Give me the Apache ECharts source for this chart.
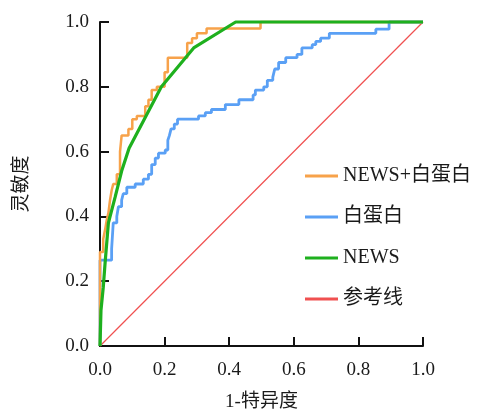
<!DOCTYPE html>
<html><head><meta charset="utf-8">
<script src="https://cdn.jsdelivr.net/npm/echarts@6/dist/echarts.min.js"></script>
<style>html,body{margin:0;padding:0;background:#fff}#c{width:481px;height:410px}</style>
</head><body><div id="c"></div>
<script>
var seriesNames = ['NEWS+白蛋白', '白蛋白', 'NEWS', '参考线'];
var xTicks = ['0.0','0.2','0.4','0.6','0.8','1.0'];
var yTicks = ['0.0','0.2','0.4','0.6','0.8','1.0'];
var combined = [[0,0],[0,0.29],[0.01,0.29],[0.01,0.33],[0.016,0.33],[0.016,0.36],[0.021,0.36],[0.021,0.39],[0.026,0.39],[0.026,0.41],[0.031,0.41],[0.031,0.45],[0.036,0.45],[0.036,0.48],[0.041,0.48],[0.041,0.50],[0.052,0.50],[0.052,0.53],[0.062,0.53],[0.062,0.60],[0.067,0.60],[0.067,0.65],[0.088,0.65],[0.088,0.67],[0.10,0.67],[0.10,0.70],[0.114,0.70],[0.114,0.71],[0.14,0.71],[0.14,0.74],[0.15,0.74],[0.15,0.76],[0.16,0.76],[0.16,0.79],[0.176,0.79],[0.176,0.80],[0.20,0.80],[0.20,0.845],[0.21,0.845],[0.21,0.89],[0.27,0.89],[0.27,0.935],[0.285,0.935],[0.285,0.95],[0.30,0.95],[0.30,0.965],[0.33,0.965],[0.33,0.98],[0.497,0.98],[0.497,1.0],[1,1]];
var albumin = [[0,0],[0,0.265],[0.036,0.265],[0.036,0.30],[0.041,0.30],[0.041,0.38],[0.052,0.38],[0.052,0.40],[0.057,0.40],[0.057,0.43],[0.067,0.43],[0.067,0.45],[0.072,0.45],[0.072,0.47],[0.083,0.47],[0.083,0.49],[0.109,0.49],[0.109,0.50],[0.134,0.50],[0.134,0.515],[0.150,0.515],[0.150,0.53],[0.160,0.53],[0.160,0.56],[0.171,0.56],[0.171,0.58],[0.181,0.58],[0.181,0.595],[0.202,0.595],[0.202,0.605],[0.210,0.605],[0.210,0.635],[0.215,0.635],[0.215,0.65],[0.22,0.65],[0.22,0.67],[0.23,0.67],[0.23,0.685],[0.24,0.685],[0.24,0.70],[0.305,0.70],[0.305,0.71],[0.326,0.71],[0.326,0.72],[0.345,0.72],[0.345,0.73],[0.388,0.73],[0.388,0.745],[0.43,0.745],[0.43,0.76],[0.474,0.76],[0.474,0.775],[0.481,0.775],[0.481,0.79],[0.507,0.79],[0.507,0.80],[0.518,0.80],[0.518,0.82],[0.535,0.82],[0.535,0.83],[0.541,0.83],[0.541,0.855],[0.553,0.855],[0.553,0.875],[0.575,0.875],[0.575,0.89],[0.61,0.89],[0.61,0.90],[0.625,0.90],[0.625,0.92],[0.657,0.92],[0.657,0.93],[0.668,0.93],[0.668,0.94],[0.683,0.94],[0.683,0.95],[0.71,0.95],[0.71,0.965],[0.854,0.965],[0.854,0.978],[0.895,0.978],[0.895,1.0],[1,1]];
var news = [[0,0],[0.003,0.11],[0.01,0.18],[0.016,0.26],[0.026,0.38],[0.047,0.46],[0.067,0.54],[0.09,0.61],[0.19,0.80],[0.29,0.92],[0.42,1.0],[1,1]];
var reference = [[0,0],[1,1]];

var serif = '"Liberation Serif","Times New Roman","Noto Sans CJK SC",serif';
var chart = echarts.init(document.getElementById('c'));
function ln(name, data, color, width, z) {
  return {name: name, type: 'line', data: data, showSymbol: false, symbol: 'none',
    lineStyle: {color: color, width: width}, itemStyle: {color: color}, z: z, clip: false, animation: false};
}
chart.setOption({
  animation: false,
  grid: {left: 100, right: 58, top: 22, bottom: 64, outerBoundsMode: 'none', containLabel: false},
  legend: {
    data: seriesNames, orient: 'vertical', left: 300, top: 161,
    icon: 'rect', itemWidth: 33, itemHeight: 3, itemGap: 21,
    textStyle: {fontFamily: serif, fontSize: 20, color: '#1a1a1a'}
  },
  xAxis: {
    type: 'value', min: 0, max: 1, interval: 0.2,
    name: '1-特异度', nameLocation: 'middle', nameGap: 47,
    nameTextStyle: {fontFamily: serif, fontSize: 19, color: '#1a1a1a'},
    axisLine: {lineStyle: {color: '#111', width: 2}},
    axisTick: {inside: true, length: 9, lineStyle: {color: '#111', width: 2}},
    axisLabel: {fontFamily: serif, fontSize: 19, color: '#1a1a1a', margin: 15,
      formatter: function (v) { return xTicks[Math.round(v * 5)]; }},
    splitLine: {show: false}
  },
  yAxis: {
    type: 'value', min: 0, max: 1, interval: 0.2,
    name: '灵敏度', nameLocation: 'middle', nameGap: 68, nameRotate: 90,
    nameTextStyle: {fontFamily: serif, fontSize: 19, color: '#1a1a1a'},
    axisLine: {lineStyle: {color: '#111', width: 2}},
    axisTick: {inside: true, length: 9, lineStyle: {color: '#111', width: 2}},
    axisLabel: {fontFamily: serif, fontSize: 19, color: '#1a1a1a', margin: 11,
      formatter: function (v) { return yTicks[Math.round(v * 5)]; }},
    splitLine: {show: false}
  },
  series: [
    ln(seriesNames[3], reference, '#F05050', 1.2, 1),
    ln(seriesNames[1], albumin, '#5AA0F5', 2.8, 2),
    ln(seriesNames[0], combined, '#F7A24A', 2.5, 3),
    ln(seriesNames[2], news, '#1EB01E', 3.2, 4)
  ]
});
</script></body></html>
